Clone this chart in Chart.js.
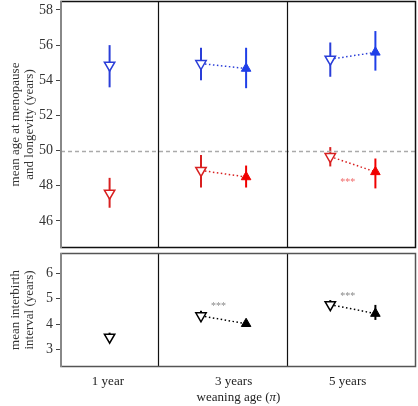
<!DOCTYPE html>
<html>
<head>
<meta charset="utf-8">
<script src="https://cdn.jsdelivr.net/npm/chart.js@4.4.1/dist/chart.umd.min.js"></script>
<style>
  body { margin: 0; background: #fff; }
  #wrap { position: relative; width: 418px; height: 406px; }
  #top { position: absolute; left: 0; top: 0; }
  #bot { position: absolute; left: 0; top: 250px; }
</style>
</head>
<body>
<div id="wrap">
  <canvas id="top" width="418" height="250"></canvas>
  <canvas id="bot" width="418" height="156"></canvas>
</div>
<script>
// weaning age groups (x positions on a linear axis) and their labels
const groupLabels = ['1 year', '3 years', '5 years'];
const labelPos = [1.11, 2.085, 2.97];
const openX = [1.123, 1.832, 2.835];
const filledX = [2.182, 3.185];
const panelDividers = [1.5, 2.5];

// top panel: mean age at menopause (red) and longevity (blue)
const blueOpen = [54.86, 54.95, 55.2];
const blueOpenLo = [53.6, 54.0, 54.2];
const blueOpenHi = [56.0, 55.85, 56.15];
const blueFilled = [54.67, 55.59];
const blueFilledLo = [53.55, 54.55];
const blueFilledHi = [55.85, 56.8];
const redOpen = [47.58, 48.87, 49.66];
const redOpenLo = [46.75, 47.9, 49.1];
const redOpenHi = [48.45, 49.75, 50.2];
const redFilled = [48.5, 48.79];
const redFilledLo = [47.9, 47.85];
const redFilledHi = [49.15, 49.55];
const topTicks = [46, 48, 50, 52, 54, 56, 58];

// bottom panel: mean interbirth interval
const ibiOpen = [3.49, 4.33, 4.77];
const ibiOpenLo = [3.42, 4.2, 4.6];
const ibiOpenHi = [3.67, 4.53, 4.95];
const ibiFilled = [4.02, 4.42];
const ibiFilledLo = [3.93, 4.17];
const ibiFilledHi = [4.12, 4.76];
const botTicks = [3, 4, 5, 6];

const SERIF = "'Liberation Serif', 'Times New Roman', serif";
const BLUE = '#2a3ed8';
const BLUE2 = '#1f3fe8';
const RED = '#d82020';
const RED2 = '#f00000';

const pts = (xs, ys) => xs.map((x, i) => ({ x: x, y: ys[i] }));

function markers(label, xs, ys, lo, hi, color, open) {
  return {
    type: 'scatter', label: label,
    data: pts(xs, ys), errLo: lo, errHi: hi, errColor: color,
    pointStyle: 'triangle',
    rotation: open ? 180 : 0,
    pointRadius: open ? 6 : 5.5,
    pointHoverRadius: open ? 6 : 5.5,
    borderWidth: open ? 1.5 : 1,
    borderColor: color,
    backgroundColor: open ? '#fff' : color,
    order: 1
  };
}

// dotted line from open to filled marker of each later group
function links(openYs, filledYs, color) {
  return filledX.map((x, i) => ({
    type: 'line',
    data: [{ x: openX[i + 1], y: openYs[i + 1] }, { x: x, y: filledYs[i] }],
    borderColor: color, borderWidth: 1.5, borderDash: [1.5, 2.5],
    pointRadius: 0, fill: false, order: 2
  }));
}

const errorBars = {
  id: 'errorBars',
  beforeDatasetsDraw(chart) {
    const ctx = chart.ctx;
    const xs = chart.scales.x, ys = chart.scales.y;
    chart.data.datasets.forEach(ds => {
      if (!ds.errLo) return;
      ctx.save();
      ctx.strokeStyle = ds.errColor;
      ctx.lineWidth = 2;
      ds.data.forEach((p, i) => {
        const px = xs.getPixelForValue(p.x);
        ctx.beginPath();
        ctx.moveTo(px, ys.getPixelForValue(ds.errLo[i]));
        ctx.lineTo(px, ys.getPixelForValue(ds.errHi[i]));
        ctx.stroke();
      });
      ctx.restore();
    });
  }
};

const panelFrame = {
  id: 'panelFrame',
  beforeDatasetsDraw(chart, args, opts) {
    const { ctx, chartArea: a } = chart;
    const xs = chart.scales.x, ys = chart.scales.y;
    ctx.save();
    if (opts.refLine != null) {
      const py = Math.round(ys.getPixelForValue(opts.refLine)) + 0.5;
      ctx.strokeStyle = '#aaaaaa';
      ctx.lineWidth = 1.5;
      ctx.setLineDash([4, 3]);
      ctx.beginPath();
      ctx.moveTo(a.left, py);
      ctx.lineTo(a.right, py);
      ctx.stroke();
      ctx.setLineDash([]);
    }
    ctx.strokeStyle = '#111';
    ctx.lineWidth = 1.2;
    panelDividers.forEach(v => {
      const px = Math.round(xs.getPixelForValue(v)) + 0.5;
      ctx.beginPath();
      ctx.moveTo(px, a.top);
      ctx.lineTo(px, a.bottom);
      ctx.stroke();
    });
    ctx.restore();
  },
  afterDraw(chart, args, opts) {
    const { ctx, chartArea: a } = chart;
    const xs = chart.scales.x, ys = chart.scales.y;
    ctx.save();
    ctx.strokeStyle = opts.frameColor;
    ctx.lineWidth = 1.5;
    ctx.strokeRect(a.left, a.top + 0.5, a.right - a.left - 0.5, a.bottom - a.top - 1);
    ctx.strokeStyle = '#888';
    ctx.lineWidth = 2;
    ctx.beginPath();
    ctx.moveTo(a.left, a.top);
    ctx.lineTo(a.left, a.bottom);
    ctx.stroke();
    ctx.font = '10px ' + SERIF;
    ctx.textAlign = 'center';
    ctx.textBaseline = 'middle';
    (opts.stars || []).forEach(s => {
      ctx.fillStyle = s.color;
      ctx.fillText('***', xs.getPixelForValue(s.x), ys.getPixelForValue(s.y));
    });
    if (opts.xTitle) {
      const cx = (a.left + a.right) / 2;
      const y = chart.height - 8;
      ctx.fillStyle = '#222';
      const p1 = 'weaning age (', p3 = ')';
      ctx.font = '13px ' + SERIF;
      const w1 = ctx.measureText(p1).width, w3 = ctx.measureText(p3).width;
      ctx.font = 'italic 13px ' + SERIF;
      const w2 = ctx.measureText('π').width;
      const x = cx - (w1 + w2 + w3) / 2;
      ctx.textAlign = 'left';
      ctx.font = '13px ' + SERIF;
      ctx.fillText(p1, x, y);
      ctx.font = 'italic 13px ' + SERIF;
      ctx.fillText('π', x + w1, y);
      ctx.font = '13px ' + SERIF;
      ctx.fillText(p3, x + w1 + w2, y);
    }
    ctx.restore();
  }
};

function yAxis(min, max, ticks, title) {
  return {
    min: min, max: max,
    afterFit: s => { s.width = 61; s.paddingTop = 0; s.paddingBottom = 0; },
    afterBuildTicks: s => { s.ticks = ticks.map(v => ({ value: v })); },
    grid: { drawOnChartArea: false, drawTicks: true, tickLength: 5, color: '#444' },
    border: { display: false },
    ticks: { padding: 3, color: '#333', font: { family: SERIF, size: 14 } },
    title: {
      display: true, text: title, color: '#333',
      font: { family: SERIF, size: 13, lineHeight: 1.1 },
      padding: { top: 8, bottom: 0 }
    }
  };
}

Chart.defaults.animation = false;

new Chart(document.getElementById('top'), {
  type: 'scatter',
  data: {
    datasets: [
      markers('longevity, before', openX, blueOpen, blueOpenLo, blueOpenHi, BLUE, true),
      markers('longevity, after', filledX, blueFilled, blueFilledLo, blueFilledHi, BLUE2, false),
      markers('menopause, before', openX, redOpen, redOpenLo, redOpenHi, RED, true),
      markers('menopause, after', filledX, redFilled, redFilledLo, redFilledHi, RED2, false),
      ...links(blueOpen, blueFilled, BLUE),
      ...links(redOpen, redFilled, RED)
    ]
  },
  options: {
    responsive: false,
    devicePixelRatio: 1,
    layout: { autoPadding: false, padding: { top: 1, bottom: 2, right: 2, left: 0 } },
    plugins: {
      legend: { display: false },
      tooltip: { enabled: false },
      panelFrame: {
        refLine: 50, frameColor: '#111',
        stars: [{ x: 2.97, y: 48.17, color: '#f06a6a' }]
      }
    },
    scales: {
      x: { type: 'linear', min: 0.746, max: 3.5, display: false },
      y: yAxis(44.46, 58.51, topTicks, ['mean age at menopause', 'and longevity (years)'])
    }
  },
  plugins: [errorBars, panelFrame]
});

new Chart(document.getElementById('bot'), {
  type: 'scatter',
  data: {
    datasets: [
      markers('interbirth, before', openX, ibiOpen, ibiOpenLo, ibiOpenHi, '#000', true),
      markers('interbirth, after', filledX, ibiFilled, ibiFilledLo, ibiFilledHi, '#000', false),
      ...links(ibiOpen, ibiFilled, '#000')
    ]
  },
  options: {
    responsive: false,
    devicePixelRatio: 1,
    layout: { autoPadding: false, padding: { top: 3, bottom: 0, right: 2, left: 0 } },
    plugins: {
      legend: { display: false },
      tooltip: { enabled: false },
      panelFrame: {
        frameColor: '#555', xTitle: true,
        stars: [{ x: 1.967, y: 4.72, color: '#888' }, { x: 2.97, y: 5.11, color: '#888' }]
      }
    },
    scales: {
      x: {
        type: 'linear', min: 0.746, max: 3.5,
        afterFit: s => { s.height = 39; s.paddingLeft = 0; s.paddingRight = 0; },
        afterBuildTicks: s => { s.ticks = labelPos.map(v => ({ value: v })); },
        grid: { drawOnChartArea: false, drawTicks: false },
        border: { display: false },
        ticks: {
          padding: 7, color: '#222', maxRotation: 0, autoSkip: false,
          font: { family: SERIF, size: 13 },
          callback: (v, i) => groupLabels[i]
        }
      },
      y: yAxis(2.32, 6.8, botTicks, ['mean interbirth', 'interval (years)'])
    }
  },
  plugins: [errorBars, panelFrame]
});
</script>
</body>
</html>
